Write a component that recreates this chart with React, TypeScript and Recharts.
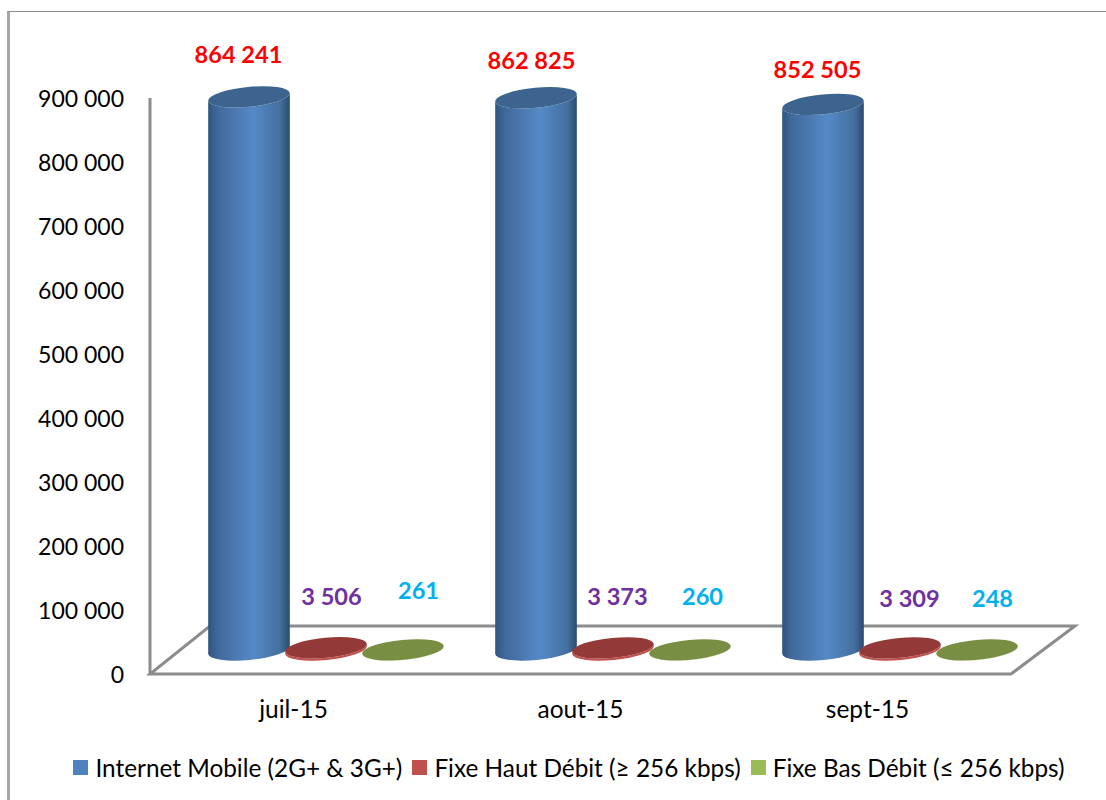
import { Bar, BarChart, LabelList, Legend, XAxis, YAxis, usePlotArea } from 'recharts';

const months = ['juil-15', 'aout-15', 'sept-15'];
const mobile = [864241, 862825, 852505];
const fixeHaut = [3506, 3373, 3309];
const fixeBas = [261, 260, 248];
const yTicks = [0, 100000, 200000, 300000, 400000, 500000, 600000, 700000, 800000, 900000];

const data = months.map((month, i) => ({
  month,
  mobile: mobile[i],
  fixeHaut: fixeHaut[i],
  fixeBas: fixeBas[i],
}));

const FONT = 'Lato, sans-serif';
const AXIS_GREY = '#8c8c8c';
// the fake 3D floor goes back by this much
const DEPTH_X = 64;
const DEPTH_Y = 48;
// bars stand in the middle of the floor, not on the front edge
const BAR_DX = 32.5;
const BAR_DY = 24;
const RX = 41;
const RY = 10;
const TILT = -5.5;

const fmt = (v: number) => String(v).replace(/\B(?=(\d{3})+$)/g, ' ');

const Floor = () => {
  const plot = usePlotArea();
  if (!plot) return null;
  const left = plot.x;
  const right = plot.x + plot.width;
  const bottom = plot.y + plot.height;
  const back = bottom - DEPTH_Y;
  return (
    <path
      d={`M${left} ${bottom}L${right} ${bottom}L${right + DEPTH_X} ${back}L${left + DEPTH_X - 4} ${back}Z`}
      fill="none"
      stroke={AXIS_GREY}
      strokeWidth={3}
    />
  );
};

// cylinder with a tilted ellipse on top and bottom
const Cylinder = (props: any) => {
  const { x, y, width, height, side, top } = props;
  const cx = x + width / 2 + BAR_DX;
  const yTop = y - BAR_DY;
  const yBase = y + height - BAR_DY;
  const rad = (TILT * Math.PI) / 180;
  const dx = RX * Math.cos(rad);
  const dy = RX * Math.sin(rad);
  const body =
    `M${cx - dx} ${yTop - dy}L${cx - dx} ${yBase - dy}` +
    `A${RX} ${RY} ${TILT} 0 0 ${cx + dx} ${yBase + dy}` +
    `L${cx + dx} ${yTop + dy}A${RX} ${RY} ${TILT} 0 1 ${cx - dx} ${yTop - dy}Z`;
  return (
    <g>
      <path d={body} fill={`url(#${side})`} />
      <ellipse
        cx={cx}
        cy={yTop}
        rx={RX}
        ry={RY}
        fill={top}
        transform={`rotate(${TILT} ${cx} ${yTop})`}
      />
    </g>
  );
};

const makeLabel = (color: string, nudgeX: number[], nudgeY: number[]) => (props: any) => {
  const { x, y, width, value, index } = props;
  return (
    <text
      x={x + width / 2 + nudgeX[index]}
      y={y + nudgeY[index]}
      fill={color}
      fontFamily={FONT}
      fontSize={23.6}
      fontWeight={700}
      textAnchor="middle"
      dominantBaseline="central"
    >
      {fmt(value)}
    </text>
  );
};

const mobileLabel = makeLabel('#ff0000', [22, 28, 27], [-67, -62, -59]);
const hautLabel = makeLabel('#7030a0', [38, 37, 42], [-76, -76, -74]);
const basLabel = makeLabel('#00b0f0', [48, 45, 48], [-84, -78, -76]);

const LegendRow = ({ payload }: any) => (
  <div style={{ display: 'flex', justifyContent: 'center', alignItems: 'center', gap: 10 }}>
    {(payload || []).map((item: any) => (
      <div key={item.value} style={{ display: 'flex', alignItems: 'center', gap: 7 }}>
        <div style={{ width: 15, height: 15, background: item.color }} />
        <span style={{ color: '#000', fontFamily: FONT, fontSize: 24.35, whiteSpace: 'nowrap' }}>{item.value}</span>
      </div>
    ))}
  </div>
);

export default function App() {
  return (
    <div style={{ position: 'absolute', left: 0, top: 0, width: 1106, height: 800, background: '#fff', overflow: 'hidden' }}>
      <div style={{ position: 'absolute', left: 7, top: 11, width: 1200, height: 900, borderTop: '1.5px solid #8c8c8c', borderLeft: '3px solid #a6a6a6' }} />
      <BarChart
        width={1106}
        height={800}
        data={data}
        barSize={77}
        barGap={0}
        margin={{ top: 98, right: 95, bottom: 0, left: 0 }}
        style={{ position: 'absolute', left: 0, top: 0 }}
      >
        <defs>
          <linearGradient id="blueSide" x1="0" y1="0" x2="1" y2="0">
            <stop offset="0" stopColor="#2f5580" />
            <stop offset="0.12" stopColor="#41699b" />
            <stop offset="0.55" stopColor="#5689c8" />
            <stop offset="0.88" stopColor="#44709f" />
            <stop offset="1" stopColor="#2a4a70" />
          </linearGradient>
          <linearGradient id="redSide" x1="0" y1="0" x2="1" y2="0">
            <stop offset="0" stopColor="#c0504d" />
            <stop offset="1" stopColor="#c0504d" />
          </linearGradient>
          <linearGradient id="greenSide" x1="0" y1="0" x2="1" y2="0">
            <stop offset="0" stopColor="#9bbb59" />
            <stop offset="1" stopColor="#9bbb59" />
          </linearGradient>
        </defs>
        <Floor />
        <XAxis
          dataKey="month"
          height={60}
          axisLine={false}
          tickLine={false}
          tick={{ fill: '#000', fontSize: 24.5, fontFamily: FONT }}
          tickMargin={21}
        />
        <YAxis
          width={150}
          domain={[0, 900000]}
          ticks={yTicks}
          tickFormatter={fmt}
          interval={0}
          axisLine={{ stroke: AXIS_GREY, strokeWidth: 3 }}
          tickLine={false}
          tickMargin={20}
          dy={1}
          tick={{ fill: '#000', fontSize: 23, fontFamily: FONT }}
        />
        <Bar
          dataKey="mobile"
          name="Internet Mobile (2G+ & 3G+)"
          fill="#4f81bd"
          isAnimationActive={false}
          shape={<Cylinder side="blueSide" top="#3c648f" />}
        >
          <LabelList dataKey="mobile" content={mobileLabel} />
        </Bar>
        <Bar
          dataKey="fixeHaut"
          name="Fixe Haut Débit (≥ 256 kbps)"
          fill="#c0504d"
          isAnimationActive={false}
          shape={<Cylinder side="redSide" top="#933a38" />}
        >
          <LabelList dataKey="fixeHaut" content={hautLabel} />
        </Bar>
        <Bar
          dataKey="fixeBas"
          name="Fixe Bas Débit (≤ 256 kbps)"
          fill="#9bbb59"
          isAnimationActive={false}
          shape={<Cylinder side="greenSide" top="#788f43" />}
        >
          <LabelList dataKey="fixeBas" content={basLabel} />
        </Bar>
        <Legend
          height={66}
          itemSorter={null}
          content={<LegendRow />}
          wrapperStyle={{ left: 0, width: 1138, top: 753 }}
        />
      </BarChart>
    </div>
  );
}
